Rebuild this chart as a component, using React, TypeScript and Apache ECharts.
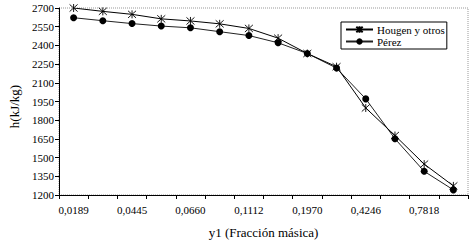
import React, { useEffect, useRef } from "react";
import * as echarts from "echarts";

const xTickLabels = ["0,0189", "0,0445", "0,0660", "0,1112", "0,1970", "0,4246", "0,7818"];
const hougen = [2700, 2673, 2649, 2613, 2596, 2573, 2536, 2458, 2335, 2229, 1898, 1677, 1448, 1273];
const perez = [2622, 2598, 2575, 2555, 2541, 2510, 2479, 2421, 2335, 2218, 1971, 1651, 1390, 1241];
const yTicks = { min: 1200, max: 2700, step: 150 };

const FONT = "Liberation Serif";
const STAR = "path://M0,0L8,8M8,0L0,8M4,-0.5L4,8.5";

// 14 categories; only every other one carries a label in the reference
const categories: string[] = hougen.map((_, i) => (i % 2 === 0 ? xTickLabels[i / 2] ?? "" : ""));

export default function App() {
  const ref = useRef<HTMLDivElement>(null);
  useEffect(() => {
    if (!ref.current) return;
    const chart = echarts.init(ref.current, undefined, { renderer: "svg" });
    chart.setOption({
      animation: false,
      backgroundColor: "#fff",
      textStyle: { fontFamily: FONT, color: "#000" },
      grid: {
        left: 45,
        right: 5,
        top: 8,
        bottom: 43,
        show: true,
        borderColor: "#999",
        borderWidth: 1,
        borderType: "dotted",
      },
      legend: {
        orient: "vertical",
        left: 341,
        top: 22,
        padding: [2, 2, 2, 4],
        itemWidth: 27,
        itemHeight: 8,
        itemGap: 1,
        borderColor: "#000",
        borderWidth: 1,
        backgroundColor: "#fff",
        textStyle: { fontFamily: FONT, fontSize: 11, color: "#000", lineHeight: 11, padding: [0, 0, 0, -1] },
        data: ["Hougen y otros", "Pérez"],
      },
      xAxis: {
        type: "category",
        data: categories,
        boundaryGap: true,
        name: "y1 (Fracción másica)",
        nameLocation: "middle",
        nameGap: 31,
        nameMoveOverlap: false,
        nameTextStyle: { fontFamily: FONT, fontSize: 13, color: "#000" },
        axisLine: { lineStyle: { color: "#000", width: 1 } },
        axisTick: { show: true, length: 4, inside: false, interval: 0, lineStyle: { color: "#000" } },
        splitLine: { show: false },
        axisLabel: {
          fontFamily: FONT,
          fontSize: 11,
          color: "#000",
          margin: 9,
          interval: 0,
        },
      },
      yAxis: {
        type: "value",
        min: yTicks.min,
        max: yTicks.max,
        interval: yTicks.step,
        name: "h(kJ/kg)",
        nameLocation: "middle",
        nameGap: 38,
        nameMoveOverlap: false,
        nameTextStyle: { fontFamily: FONT, fontSize: 13, color: "#000", padding: [0, 10, 0, 0] },
        axisLine: { show: true, lineStyle: { color: "#000", width: 1 } },
        axisTick: { show: true, length: 4, lineStyle: { color: "#000" } },
        splitLine: { show: false },
        axisLabel: {
          fontFamily: FONT,
          fontSize: 11,
          color: "#000",
          margin: 5,
          formatter: (v: number) => String(v),
        },
      },
      series: [
        {
          name: "Hougen y otros",
          type: "line",
          data: hougen,
          symbol: STAR,
          symbolSize: 8,
          showAllSymbol: true,
          lineStyle: { color: "#000", width: 1 },
          itemStyle: { color: "#000", borderColor: "#000", borderWidth: 0.9 },
          z: 3,
        },
        {
          name: "Pérez",
          type: "line",
          data: perez,
          symbol: "circle",
          symbolSize: 7,
          showAllSymbol: true,
          lineStyle: { color: "#222", width: 1 },
          itemStyle: { color: "#000", borderColor: "#000", borderWidth: 0 },
          z: 2,
        },
      ],
    });
    return () => chart.dispose();
  }, []);
  return (
    <div
      ref={ref}
      style={{ position: "absolute", left: 0, top: 0, width: 473, height: 244 }}
    />
  );
}
